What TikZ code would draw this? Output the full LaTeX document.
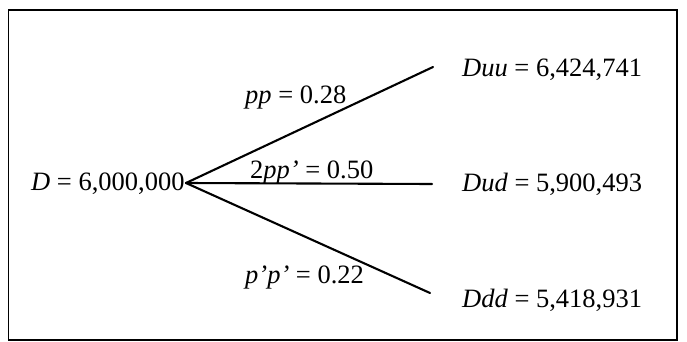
\documentclass[tikz,border=0pt]{standalone}
\usepackage{fontspec}
\setmainfont{Liberation Serif}
\begin{document}
\begin{tikzpicture}[x=1pt,y=-1pt,
  lbl/.style={font=\fontsize{26.5}{31}\selectfont, inner sep=0pt, anchor=base west},
  branch/.style={line width=2.1pt, line cap=round},
  frame/.style={line width=1.8pt}]
\useasboundingbox (0,0) rectangle (687,342);
\draw[frame] (8.5,10) rectangle (677,340);
% root and leaves
\node[lbl] (root) at (31,190) {\textit{D} = 6,000,000};
\node[lbl] (duu) at (462,77) {\textit{Duu} = 6,424,741};
\node[lbl] (dud) at (462,191) {\textit{Dud} = 5,900,493};
\node[lbl] (ddd) at (462,307) {\textit{Ddd} = 5,418,931};
\coordinate (apex) at (186,183);
\coordinate (e1) at (433,67);
\coordinate (e2) at (432,184);
\coordinate (e3) at (430,293);
\draw[branch] (apex) -- (e1);
\draw[branch] (apex) -- (e2);
\draw[branch] (apex) -- (e3);
% branch labels
\node[lbl] (l1) at (245,103) {\textit{pp} = 0.28};
\node[lbl] (l2) at (250,178) {2\textit{pp’} = 0.50};
\node[lbl] (l3) at (245,283) {\textit{p’p’} = 0.22};
\end{tikzpicture}
\end{document}
